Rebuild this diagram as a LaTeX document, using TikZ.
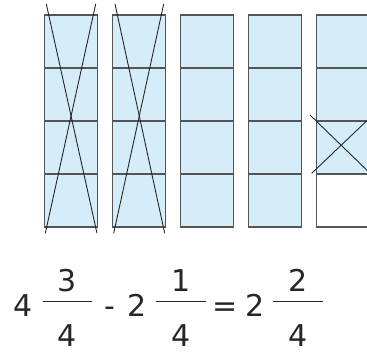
\documentclass[tikz,border=0pt]{standalone}
\usepackage{fontspec}
\setmainfont{DejaVu Sans}
\usepackage{xcolor}
\definecolor{barblue}{RGB}{213,236,249}
\definecolor{bargray}{RGB}{85,85,85}
\tikzset{
  bar/.style={fill=barblue, draw=bargray, line width=1.5pt},
  cross/.style={draw=black!85, line width=0.9pt},
  digit/.style={anchor=base, inner sep=0pt, font=\fontsize{30}{36}\selectfont, text=black!85},
  fracline/.style={draw=black!85, line width=1.8pt}
}

\begin{document}
\begin{tikzpicture}[x=1pt, y=-1pt]
    \clip (0,0) rectangle (367,353);
    % four full bars
    \foreach \x in {44.5,112.5,180.5,248.5} {
      \filldraw[bar] (\x,15) rectangle ++(53,212);
      \foreach \y in {68,121,174}
        \draw[bar] (\x,\y) -- ++(53,0);
    }
    % fifth bar, bottom part empty
    \filldraw[bar] (316.5,15) rectangle (369.5,174);
    \draw[bar, fill=white] (316.5,174) rectangle (369.5,227);
    \foreach \y in {68,121}
      \draw[bar] (316.5,\y) -- ++(53,0);
    % crossed out parts
    \draw[cross] (46.3,4) -- (97,233.3);
    \draw[cross] (95.7,4) -- (45.3,233.3);
    \draw[cross] (115,4) -- (164.7,233.3);
    \draw[cross] (163.7,4) -- (113.7,233.3);
    \draw[cross] (310,115) -- (376,179);
    \draw[cross] (311.7,173.3) -- (376,112);
    % equation
    \node[digit] (whole1) at (23.5,316) {4};
    \node[digit] (num1) at (67.5,291) {3};
    \node[digit] (den1) at (67.5,346.5) {4};
    \draw[fracline] (43,301.5) -- (92,301.5);
    \node[digit] (minus) at (110,316) {-};
    \node[digit] (whole2) at (137.5,316) {2};
    \node[digit] (num2) at (181,291) {1};
    \node[digit] (den2) at (181,346.5) {4};
    \draw[fracline] (156,301.5) -- (206,301.5);
    \node[digit] (equals) at (225,316) {=};
    \node[digit] (whole3) at (255,316) {2};
    \node[digit] (num3) at (298,291) {2};
    \node[digit] (den3) at (298,346.5) {4};
    \draw[fracline] (273,301.5) -- (323,301.5);
\end{tikzpicture}
\end{document}
